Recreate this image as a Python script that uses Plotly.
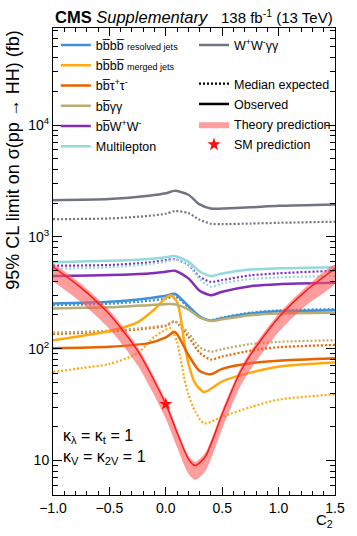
import plotly.graph_objects as go

# x grid shared by most channels
C2_GRID = [-1.0, -0.5, -0.15, 0.0, 0.08, 0.2, 0.3, 0.4, 0.5, 0.75, 1.0, 1.5]

WWGG_OBS = [2130, 2180, 2330, 2450, 2580, 2380, 1950, 1790, 1790, 1835, 1895, 1950]
WWGG_EXP = [1440, 1460, 1540, 1610, 1700, 1630, 1420, 1310, 1300, 1315, 1335, 1365]
ML_OBS = [592, 611, 635, 656, 673, 600, 490, 446, 470, 510, 523, 535]
ML_EXP = [519, 535, 570, 600, 630, 560, 420, 358, 384, 419, 434, 446]
BBWW_OBS = [446, 455, 470, 487, 498, 425, 330, 301, 323, 362, 377, 388]
BBWW_EXP = [552, 560, 590, 620, 632, 560, 440, 396, 411, 452, 472, 498]
BBBB_RES_OBS = [254, 263, 283, 297, 310, 240, 195, 178, 187, 206, 216, 221]
BBBB_RES_EXP = [245, 252, 268, 280, 293, 235, 192, 180, 190, 210, 220, 226]
BBGG_OBS = [229, 234, 245, 250, 250, 225, 190, 177, 183, 199, 206, 209]
BBGG_EXP = [139, 145, 155, 163, 176, 138, 103, 94, 99, 110, 115, 119]
BBTT_OBS = [101, 104, 112, 126, 141, 88, 63, 59, 66, 74, 78, 82]
BBTT_EXP = [135, 142, 152, 160, 175, 128, 92, 80, 85, 96, 103, 108]

# merged-jet bbbb has a sharper feature, so it gets its own grid
C2_MRG = [-1.0, -0.75, -0.5, -0.25, -0.1, 0.0, 0.04, 0.1, 0.13, 0.16, 0.2, 0.26, 0.34, 0.5, 0.75, 1.0, 1.5]
BBBB_MRG_OBS = [119, 130, 144, 172, 225, 285, 301, 262, 195, 120, 74, 49, 41, 51, 61, 69, 75]
BBBB_MRG_EXP = [62, 67, 73, 91, 128, 148, 152, 115, 82, 57, 39, 27.5, 21.5, 24.6, 30, 35, 39]

# theory prediction and its band
C2_TH = [-1.0, -0.75, -0.5, -0.25, 0.0, 0.1, 0.2, 0.26, 0.35, 0.5, 0.65, 0.75, 1.0, 1.25, 1.5]
TH = [540, 350, 203, 96, 31.9, 17.7, 10.3, 9.0, 10.8, 26, 59, 88, 190, 334, 520]
TH_LO = [400, 259, 150, 71, 23.6, 13.1, 7.6, 6.7, 8.0, 19.2, 43.7, 65, 141, 247, 385]
TH_HI = [583, 378, 219, 104, 34.5, 19.1, 11.1, 9.7, 11.7, 28.1, 63.7, 95, 205, 361, 562]

SM_C2 = [0.0]
SM_XS = [31.9]

FONT = "Liberation Sans, Arial, Helvetica, sans-serif"

channels = [
    ("bb\u0305bb\u0305 <span style='font-size:9px'>resolved jets</span>", "#3f90da", C2_GRID, BBBB_RES_OBS, BBBB_RES_EXP),
    ("bb\u0305bb\u0305 <span style='font-size:9px'>merged jets</span>", "#ffa90e", C2_MRG, BBBB_MRG_OBS, BBBB_MRG_EXP),
    ("bb\u0305\u03c4<sup>+</sup>\u03c4<sup>-</sup>", "#e76300", C2_GRID, BBTT_OBS, BBTT_EXP),
    ("bb\u0305\u03b3\u03b3", "#b9ac70", C2_GRID, BBGG_OBS, BBGG_EXP),
    ("bb\u0305W<sup>+</sup>W<sup>-</sup>", "#832db6", C2_GRID, BBWW_OBS, BBWW_EXP),
    ("Multilepton", "#92dadd", C2_GRID, ML_OBS, ML_EXP),
    ("W<sup>+</sup>W<sup>-</sup>\u03b3\u03b3", "#717581", C2_GRID, WWGG_OBS, WWGG_EXP),
]

fig = go.Figure()

for name, color, xs, obs, exp in channels:
    fig.add_trace(go.Scatter(
        x=xs, y=exp, mode="lines", showlegend=False,
        line=dict(color=color, width=2.2, dash="2px,2px", shape="spline", smoothing=0.7),
    ))
for i, (name, color, xs, obs, exp) in enumerate(channels):
    leg = "legend2" if name.startswith("W") else "legend"
    fig.add_trace(go.Scatter(
        x=xs, y=obs, mode="lines", name=name, legend=leg, legendgroup=f"c{i}",
        line=dict(color=color, width=2.5, shape="spline", smoothing=0.7),
    ))

# theory band
fig.add_trace(go.Scatter(
    x=C2_TH + C2_TH[::-1], y=TH_HI + TH_LO[::-1],
    mode="lines", fill="toself", fillcolor="rgba(255,90,90,0.6)",
    line=dict(width=0, shape="spline", smoothing=0.7),
    name="Theory prediction", legend="legend3", legendgroup="th", legendrank=3,
))
fig.add_trace(go.Scatter(
    x=C2_TH, y=TH, mode="lines", showlegend=False,
    line=dict(color="#ff1a1a", width=1.5, shape="spline", smoothing=0.7),
))
fig.add_trace(go.Scatter(
    x=SM_C2, y=SM_XS, mode="markers", name="SM prediction", legend="legend3",
    legendgroup="sm", legendrank=4,
    marker=dict(symbol="star", size=10, color="#ff1010"),
))

# legend-only style entries
fig.add_trace(go.Scatter(
    x=[None], y=[None], mode="lines", name="Median expected", legend="legend3",
    legendgroup="exp", legendrank=1,
    line=dict(color="black", width=2.2, dash="2px,2px"),
))
fig.add_trace(go.Scatter(
    x=[None], y=[None], mode="lines", name="Observed", legend="legend3",
    legendgroup="obs", legendrank=2,
    line=dict(color="black", width=2.5),
))

leg_common = dict(font=dict(size=12.5, family=FONT, color="black"), bgcolor="rgba(0,0,0,0)",
                  xanchor="left", yanchor="top", itemwidth=30, tracegroupgap=1,
                  traceorder="grouped")

fig.update_layout(
    width=357, height=536,
    margin=dict(l=53, r=18, t=28, b=41),
    plot_bgcolor="white", paper_bgcolor="white",
    font=dict(family=FONT, size=13, color="black"),
    legend=dict(x=0.01, y=0.995, **leg_common),
    legend2=dict(x=0.50, y=0.995, **leg_common),
    legend3=dict(x=0.50, y=0.912, **leg_common),
    xaxis=dict(
        range=[-1.0, 1.5], dtick=0.5, tickformat=".1f",
        ticks="inside", ticklen=8, tickcolor="black",
        minor=dict(ticks="inside", ticklen=4, dtick=0.1, tickcolor="black"),
        showline=True, linecolor="black", linewidth=1, mirror="allticks",
        showgrid=False, zeroline=False, tickfont=dict(size=14),
    ),
    yaxis=dict(
        type="log", range=[0.691, 4.868],
        tickmode="array", tickvals=[10, 100, 1000, 10000],
        ticktext=["10", "10<sup>2</sup>", "10<sup>3</sup>", "10<sup>4</sup>"],
        ticks="inside", ticklen=9, tickcolor="black",
        minor=dict(ticks="inside", ticklen=5, dtick="D1", tickcolor="black"),
        showline=True, linecolor="black", linewidth=1, mirror="allticks",
        showgrid=False, zeroline=False, tickfont=dict(size=14),
    ),
    annotations=[
        dict(text="<b>CMS</b> <i>Supplementary</i>", xref="paper", yref="paper",
             x=0.0, y=1.0, xanchor="left", yanchor="bottom", showarrow=False,
             font=dict(size=16.5), yshift=0),
        dict(text="138 fb<sup>-1</sup> (13 TeV)", xref="paper", yref="paper",
             x=1.0, y=1.0, xanchor="right", yanchor="bottom", showarrow=False,
             font=dict(size=15), yshift=0),
        dict(text="95% CL limit on \u03c3(pp \u2192 HH) (fb)", xref="paper", yref="paper",
             x=-0.143, y=1.0, xanchor="center", yanchor="top", textangle=-90,
             showarrow=False, font=dict(size=18)),
        dict(text="C<sub>2</sub>", xref="paper", yref="paper",
             x=1.0, y=-0.03, xanchor="right", yanchor="top", showarrow=False,
             font=dict(size=15)),
        dict(text="\u03ba<sub>\u03bb</sub> = \u03ba<sub>t</sub> = 1<br>\u03ba<sub>V</sub> = \u03ba<sub>2V</sub> = 1",
             xref="paper", yref="paper", x=0.03, y=0.149, xanchor="left", yanchor="top",
             align="left", showarrow=False, font=dict(size=16)),
    ],
)

fig.write_html("out.html", config={"displayModeBar": False},
               post_script="document.body.style.margin='0px';")
